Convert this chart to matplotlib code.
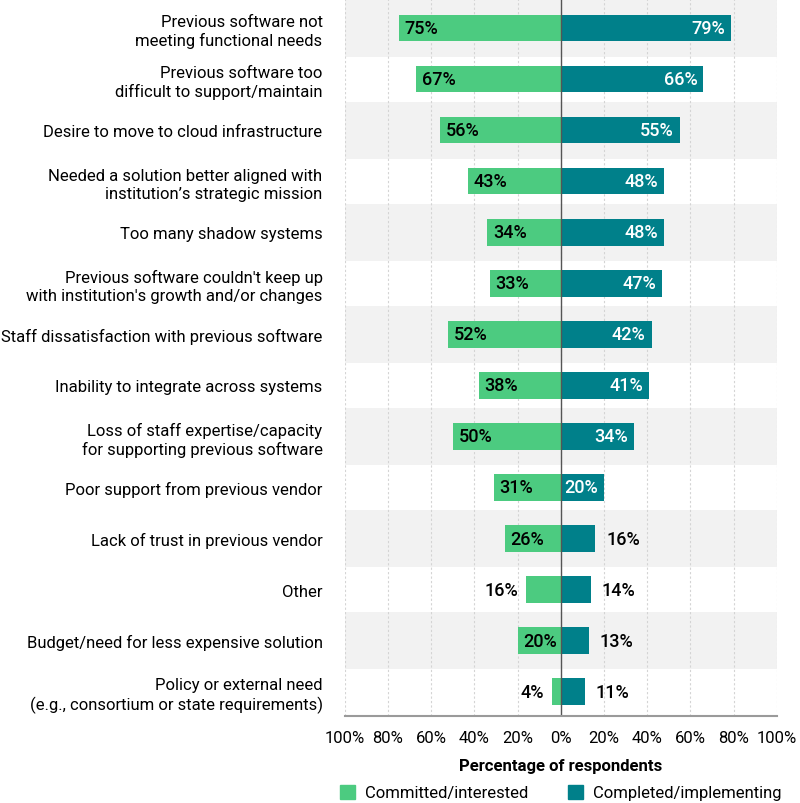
import numpy as np
import matplotlib; matplotlib.use("Agg")
import matplotlib.pyplot as plt
from matplotlib.patches import Patch

plt.rcParams["font.family"] = ["Roboto", "DejaVu Sans"]

categories = [
    "Previous software not\nmeeting functional needs",
    "Previous software too\ndifficult to support/maintain",
    "Desire to move to cloud infrastructure",
    "Needed a solution better aligned with\ninstitution\u2019s strategic mission",
    "Too many shadow systems",
    "Previous software couldn't keep up\nwith institution's growth and/or changes",
    "Staff dissatisfaction with previous software",
    "Inability to integrate across systems",
    "Loss of staff expertise/capacity\nfor supporting previous software",
    "Poor support from previous vendor",
    "Lack of trust in previous vendor",
    "Other",
    "Budget/need for less expensive solution",
    "Policy or external need\n(e.g., consortium or state requirements)",
]
committed = [75, 67, 56, 43, 34, 33, 52, 38, 50, 31, 26, 16, 20, 4]
completed = [79, 66, 55, 48, 48, 47, 42, 41, 34, 20, 16, 14, 13, 11]
ticks = [-100, -80, -60, -40, -20, 0, 20, 40, 60, 80, 100]

GREEN = "#4ccb80"
TEAL = "#00808a"
SHADE = "#f2f2f2"

fig = plt.figure(figsize=(8, 8.04), dpi=100)
ax = fig.add_axes([0.431, 0.108, 0.540, 0.892])

y = np.arange(len(categories))
for i in y[::2]:
    ax.axhspan(i - 0.56, i + 0.56, color=SHADE, zorder=0, lw=0)
for t in ticks:
    ax.axvline(t, color="#d4d4d4", lw=0.8, ls=(0, (2, 2)), zorder=1)

ax.barh(y, [-v for v in committed], height=0.52, color=GREEN, zorder=2)
ax.barh(y, completed, height=0.52, color=TEAL, zorder=2)
ax.axvline(0, color="#555555", lw=1, zorder=3)

lab = dict(va="center", fontsize=13, fontweight="medium", zorder=4)
for i, (a, b) in enumerate(zip(committed, completed)):
    if a >= 18:
        ax.text(-a + 2.6, i, f"{a}%", ha="left", color="black", **lab)
    else:
        ax.text(-a - 3.6, i, f"{a}%", ha="right", color="black", **lab)
    if b >= 18:
        ax.text(b - 2.8, i, f"{b}%", ha="right", color="white", **lab)
    else:
        ax.text(b + 5, i, f"{b}%", ha="left", color="black", **lab)

ax.set_yticks(y)
ax.set_yticklabels(categories, fontsize=12, linespacing=1.25)
ax.set_ylim(13.48, -0.57)
ax.set_xlim(-100, 100)
ax.set_xticks(ticks)
ax.set_xticklabels([f"{abs(t)}%" for t in ticks], fontsize=12)
ax.tick_params(length=0)
ax.tick_params(axis="y", pad=16)
ax.tick_params(axis="x", pad=10)
for s in ("top", "right", "left"):
    ax.spines[s].set_visible(False)
ax.spines["bottom"].set_color("#9a9a9a")
ax.spines["bottom"].set_linewidth(1.5)
ax.spines["bottom"].set_zorder(5)
ax.set_xlabel("Percentage of respondents", fontsize=12, fontweight="bold",
              labelpad=9)

handles = [Patch(color=GREEN, label="Committed/interested"),
           Patch(color=TEAL, label="Completed/implementing")]
fig.legend(handles=handles, loc="center", bbox_to_anchor=(0.701, 0.013),
           ncol=2, frameon=False, fontsize=12, handlelength=0.9,
           handleheight=0.9, handletextpad=0.6, columnspacing=2.4)

fig.savefig("out.png", dpi=100)
